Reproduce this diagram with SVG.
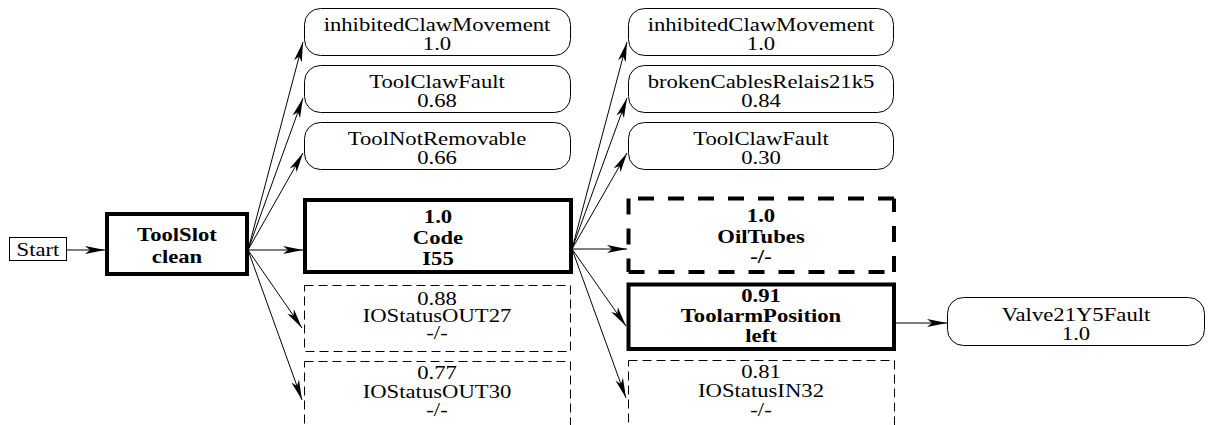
<svg xmlns="http://www.w3.org/2000/svg" width="1209" height="425" viewBox="0 0 1209 425">
  <style>
    .lbl { font-family: "Liberation Serif", "Times New Roman", serif; font-size: 18px; text-anchor: middle; fill: #000; }
    .bold { font-weight: bold; }
    .thin { fill: #fff; stroke: #000; stroke-width: 1; }
    .thick { fill: #fff; stroke: #000; stroke-width: 4; }
    .dash { fill: none; stroke: #000; stroke-width: 1; stroke-dasharray: 9 5; }
    .dashThick { fill: none; stroke: #000; stroke-width: 4; stroke-dasharray: 16 14; }
    .edge { fill: none; stroke: #000; stroke-width: 1; marker-end: url(#head); }
  </style>
  <defs>
    <marker id="head" markerUnits="userSpaceOnUse" markerWidth="22" markerHeight="10" viewBox="-21 -5 22 10" refX="0" refY="0" orient="auto">
      <path d="M0,0 L-20,-4 L-15,0 L-20,4 Z" fill="#000"/>
    </marker>
  </defs>

  <!-- connectors -->
  <g id="edges">
    <line class="edge" x1="67" y1="250" x2="105" y2="250"/>
    <line class="edge" x1="248" y1="250" x2="303" y2="42"/>
    <line class="edge" x1="248" y1="250" x2="303" y2="98"/>
    <line class="edge" x1="248" y1="250" x2="303" y2="153"/>
    <line class="edge" x1="248" y1="250" x2="303" y2="250"/>
    <line class="edge" x1="248" y1="250" x2="302" y2="328"/>
    <line class="edge" x1="248" y1="250" x2="302" y2="400"/>
    <line class="edge" x1="572" y1="249" x2="627" y2="42"/>
    <line class="edge" x1="572" y1="249" x2="627" y2="98"/>
    <line class="edge" x1="572" y1="249" x2="627" y2="153"/>
    <line class="edge" x1="572" y1="249" x2="627" y2="249"/>
    <line class="edge" x1="572" y1="249" x2="626" y2="326"/>
    <line class="edge" x1="572" y1="249" x2="626" y2="398"/>
    <line class="edge" x1="896" y1="323" x2="947" y2="323"/>
  </g>

  <!-- start -->
  <g id="start">
    <rect class="thin" x="9.5" y="237.5" width="57" height="23"/>
    <g transform="translate(38 0) scale(1.26 1)"><text class="lbl" x="0" y="256.5">Start</text></g>
  </g>

  <!-- first state -->
  <g id="toolslot">
    <rect class="thick" x="107" y="214" width="140" height="60"/>
    <g transform="translate(177 0) scale(1.26 1)">
      <text class="lbl bold" x="0" y="241">ToolSlot</text>
      <text class="lbl bold" x="0" y="263">clean</text>
    </g>
  </g>

  <!-- left column faults -->
  <g id="fault-l1">
    <rect class="thin" x="304.5" y="8.5" width="266" height="47" rx="16"/>
    <g transform="translate(437 0) scale(1.26 1)">
      <text class="lbl" x="0" y="31">inhibitedClawMovement</text>
      <text class="lbl" x="0" y="50">1.0</text>
    </g>
  </g>
  <g id="fault-l2">
    <rect class="thin" x="304.5" y="65.5" width="266" height="47" rx="16"/>
    <g transform="translate(437 0) scale(1.26 1)">
      <text class="lbl" x="0" y="88">ToolClawFault</text>
      <text class="lbl" x="0" y="107">0.68</text>
    </g>
  </g>
  <g id="fault-l3">
    <rect class="thin" x="304.5" y="122.5" width="266" height="47" rx="16"/>
    <g transform="translate(437 0) scale(1.26 1)">
      <text class="lbl" x="0" y="145">ToolNotRemovable</text>
      <text class="lbl" x="0" y="164">0.66</text>
    </g>
  </g>

  <!-- left column tests -->
  <g id="code">
    <rect class="thick" x="305" y="200" width="266" height="72"/>
    <g transform="translate(438 0) scale(1.26 1)">
      <text class="lbl bold" x="0" y="223">1.0</text>
      <text class="lbl bold" x="0" y="244">Code</text>
      <text class="lbl bold" x="0" y="265">I55</text>
    </g>
  </g>
  <g id="out27">
    <rect class="dash" x="304.5" y="285.5" width="266" height="66"/>
    <g transform="translate(437 0) scale(1.26 1)">
      <text class="lbl" x="0" y="305">0.88</text>
      <text class="lbl" x="0" y="322">IOStatusOUT27</text>
      <text class="lbl" x="0" y="339">-/-</text>
    </g>
  </g>
  <g id="out30">
    <rect class="dash" x="304.5" y="361.5" width="266" height="80"/>
    <g transform="translate(437 0) scale(1.26 1)">
      <text class="lbl" x="0" y="379">0.77</text>
      <text class="lbl" x="0" y="398">IOStatusOUT30</text>
      <text class="lbl" x="0" y="416">-/-</text>
    </g>
  </g>

  <!-- right column faults -->
  <g id="fault-r1">
    <rect class="thin" x="628.5" y="8.5" width="265" height="47" rx="16"/>
    <g transform="translate(761 0) scale(1.26 1)">
      <text class="lbl" x="0" y="31">inhibitedClawMovement</text>
      <text class="lbl" x="0" y="50">1.0</text>
    </g>
  </g>
  <g id="fault-r2">
    <rect class="thin" x="628.5" y="65.5" width="265" height="47" rx="16"/>
    <g transform="translate(761 0) scale(1.26 1)">
      <text class="lbl" x="0" y="88">brokenCablesRelais21k5</text>
      <text class="lbl" x="0" y="107">0.84</text>
    </g>
  </g>
  <g id="fault-r3">
    <rect class="thin" x="628.5" y="122.5" width="265" height="47" rx="16"/>
    <g transform="translate(761 0) scale(1.26 1)">
      <text class="lbl" x="0" y="145">ToolClawFault</text>
      <text class="lbl" x="0" y="164">0.30</text>
    </g>
  </g>

  <!-- right column tests; the heavy dashed frame is drawn side by side so each corner starts a dash -->
  <g id="oiltubes">
    <path class="dashThick" d="M628.5,198.5 V272 M628.5,272 H894 M894,272 V198.5 M894,198.5 H628.5"/>
    <g transform="translate(761 0) scale(1.26 1)">
      <text class="lbl bold" x="0" y="222">1.0</text>
      <text class="lbl bold" x="0" y="243">OilTubes</text>
      <text class="lbl bold" x="0" y="263">-/-</text>
    </g>
  </g>
  <g id="toolarm">
    <rect class="thick" x="628.5" y="284.5" width="265.5" height="64.5"/>
    <g transform="translate(761 0) scale(1.26 1)">
      <text class="lbl bold" x="0" y="302">0.91</text>
      <text class="lbl bold" x="0" y="322">ToolarmPosition</text>
      <text class="lbl bold" x="0" y="342">left</text>
    </g>
  </g>
  <g id="in32">
    <rect class="dash" x="628.5" y="360.5" width="266" height="80"/>
    <g transform="translate(761 0) scale(1.26 1)">
      <text class="lbl" x="0" y="378">0.81</text>
      <text class="lbl" x="0" y="397">IOStatusIN32</text>
      <text class="lbl" x="0" y="416">-/-</text>
    </g>
  </g>

  <!-- follow-up fault -->
  <g id="valve">
    <rect class="thin" x="947.5" y="297.5" width="257" height="48" rx="16"/>
    <g transform="translate(1076 0) scale(1.26 1)">
      <text class="lbl" x="0" y="321">Valve21Y5Fault</text>
      <text class="lbl" x="0" y="340">1.0</text>
    </g>
  </g>
</svg>
